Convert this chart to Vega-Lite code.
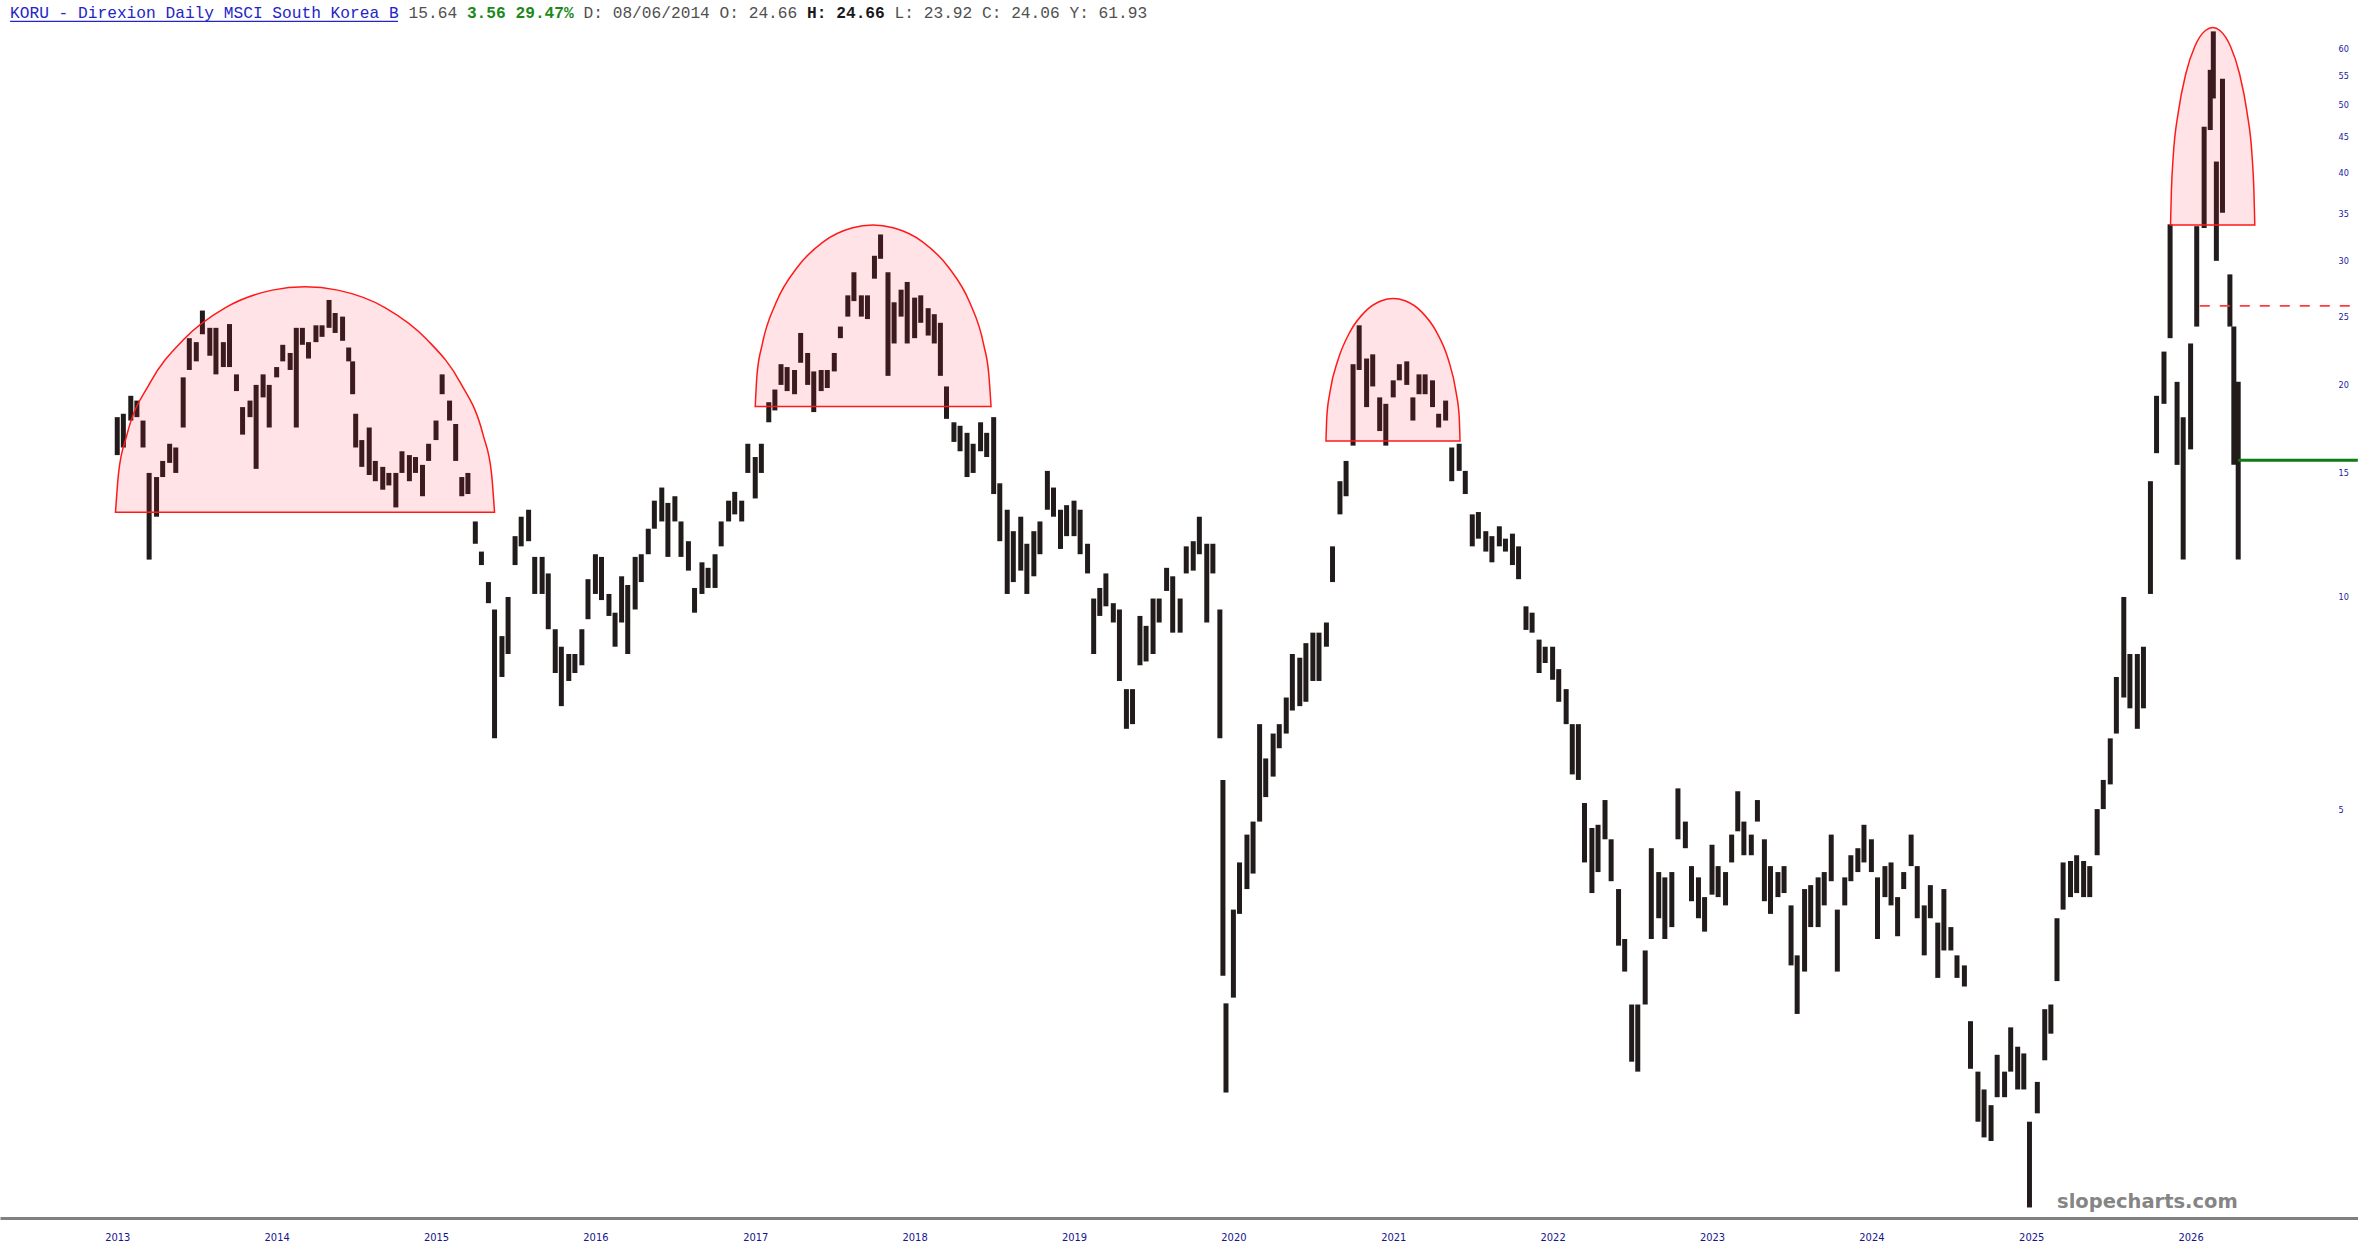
{
  "$schema": "https://vega.github.io/schema/vega-lite/v6.json",
  "width": 2358,
  "height": 1218,
  "autosize": {"type": "none"},
  "padding": {"left": 0, "top": 0, "right": 0, "bottom": 42},
  "background": "#ffffff",
  "config": {"view": {"stroke": null}},
  "resolve": {"axis": {"x": "independent", "y": "independent"}},
  "datasets": {
    "prices": [
      {"d":"2013-01-01","l":15.9,"h":18.0},{"d":"2013-01-15","l":16.3,"h":18.2},{"d":"2013-02-01","l":17.8,"h":19.3},{"d":"2013-02-15","l":18.0,"h":19.0},
      {"d":"2013-03-01","l":16.3,"h":17.8},{"d":"2013-03-15","l":11.3,"h":15.0},{"d":"2013-04-01","l":13.0,"h":14.8},{"d":"2013-04-15","l":14.8,"h":15.6},
      {"d":"2013-05-01","l":15.5,"h":16.5},{"d":"2013-05-15","l":15.0,"h":16.3},{"d":"2013-06-01","l":17.4,"h":20.5},{"d":"2013-06-15","l":21.0,"h":23.3},
      {"d":"2013-07-01","l":21.6,"h":23.0},{"d":"2013-07-15","l":23.6,"h":25.5},{"d":"2013-08-01","l":22.0,"h":24.1},{"d":"2013-08-15","l":20.7,"h":24.1},
      {"d":"2013-09-01","l":21.2,"h":23.0},{"d":"2013-09-15","l":21.2,"h":24.4},{"d":"2013-10-01","l":19.6,"h":20.7},{"d":"2013-10-15","l":17.0,"h":18.6},
      {"d":"2013-11-01","l":18.0,"h":19.0},{"d":"2013-11-15","l":15.2,"h":20.0},{"d":"2013-12-01","l":19.2,"h":20.7},{"d":"2013-12-15","l":17.4,"h":20.0},
      {"d":"2014-01-01","l":20.5,"h":21.2},{"d":"2014-01-15","l":21.6,"h":22.8},{"d":"2014-02-01","l":21.0,"h":22.2},{"d":"2014-02-15","l":17.4,"h":24.1},
      {"d":"2014-03-01","l":22.8,"h":24.1},{"d":"2014-03-15","l":21.8,"h":23.0},{"d":"2014-04-01","l":23.0,"h":24.3},{"d":"2014-04-15","l":23.4,"h":24.3},
      {"d":"2014-05-01","l":24.1,"h":26.4},{"d":"2014-05-15","l":23.7,"h":25.3},{"d":"2014-06-01","l":23.1,"h":25.0},{"d":"2014-06-15","l":21.6,"h":22.6},
      {"d":"2014-06-24","l":19.4,"h":21.6},{"d":"2014-07-01","l":16.3,"h":18.2},{"d":"2014-07-15","l":15.3,"h":16.7},{"d":"2014-08-01","l":14.9,"h":17.4},
      {"d":"2014-08-15","l":14.6,"h":15.6},{"d":"2014-09-01","l":14.2,"h":15.3},{"d":"2014-09-15","l":14.4,"h":15.0},{"d":"2014-10-01","l":13.4,"h":15.0},
      {"d":"2014-10-15","l":15.0,"h":16.1},{"d":"2014-11-01","l":14.6,"h":15.9},{"d":"2014-11-15","l":15.0,"h":15.8},{"d":"2014-12-01","l":13.9,"h":15.4},
      {"d":"2014-12-15","l":15.6,"h":16.5},{"d":"2015-01-01","l":16.7,"h":17.8},{"d":"2015-01-15","l":19.4,"h":20.7},{"d":"2015-02-01","l":17.8,"h":19.0},
      {"d":"2015-02-15","l":15.6,"h":17.6},{"d":"2015-03-01","l":13.9,"h":14.8},{"d":"2015-03-15","l":14.0,"h":15.0},{"d":"2015-04-01","l":11.9,"h":12.8},
      {"d":"2015-04-15","l":11.1,"h":11.6},{"d":"2015-05-01","l":9.8,"h":10.5},{"d":"2015-05-15","l":6.3,"h":9.6},{"d":"2015-06-01","l":7.7,"h":8.8},
      {"d":"2015-06-15","l":8.3,"h":10.0},{"d":"2015-07-01","l":11.1,"h":12.2},{"d":"2015-07-15","l":11.8,"h":13.0},{"d":"2015-08-01","l":12.0,"h":13.3},
      {"d":"2015-08-15","l":10.1,"h":11.4},{"d":"2015-09-01","l":10.1,"h":11.4},{"d":"2015-09-15","l":9.0,"h":10.8},{"d":"2015-10-01","l":7.8,"h":9.0},
      {"d":"2015-10-15","l":7.0,"h":8.5},{"d":"2015-11-01","l":7.6,"h":8.3},{"d":"2015-11-15","l":7.8,"h":8.3},{"d":"2015-12-01","l":8.0,"h":9.0},
      {"d":"2015-12-15","l":9.3,"h":10.6},{"d":"2016-01-01","l":10.1,"h":11.5},{"d":"2016-01-15","l":9.9,"h":11.4},{"d":"2016-02-01","l":9.4,"h":10.1},
      {"d":"2016-02-15","l":8.5,"h":9.5},{"d":"2016-03-01","l":9.2,"h":10.7},{"d":"2016-03-15","l":8.3,"h":10.4},{"d":"2016-04-01","l":9.6,"h":11.4},
      {"d":"2016-04-15","l":10.5,"h":11.5},{"d":"2016-05-01","l":11.5,"h":12.5},{"d":"2016-05-15","l":12.5,"h":13.7},{"d":"2016-06-01","l":12.8,"h":14.3},
      {"d":"2016-06-15","l":11.4,"h":13.6},{"d":"2016-07-01","l":12.8,"h":13.9},{"d":"2016-07-15","l":11.4,"h":12.8},{"d":"2016-08-01","l":10.9,"h":12.0},
      {"d":"2016-08-15","l":9.5,"h":10.3},{"d":"2016-09-01","l":10.1,"h":11.2},{"d":"2016-09-15","l":10.3,"h":11.0},{"d":"2016-10-01","l":10.3,"h":11.5},
      {"d":"2016-10-15","l":11.8,"h":12.8},{"d":"2016-11-01","l":12.8,"h":13.7},{"d":"2016-11-15","l":13.1,"h":14.1},{"d":"2016-12-01","l":12.8,"h":13.7},
      {"d":"2016-12-15","l":15.0,"h":16.5},{"d":"2017-01-01","l":13.8,"h":15.8},{"d":"2017-01-15","l":15.0,"h":16.5},{"d":"2017-02-01","l":17.7,"h":18.9},
      {"d":"2017-02-15","l":18.4,"h":19.7},{"d":"2017-03-01","l":20.0,"h":21.4},{"d":"2017-03-15","l":19.6,"h":21.2},{"d":"2017-04-01","l":19.4,"h":21.0},
      {"d":"2017-04-15","l":21.5,"h":23.7},{"d":"2017-05-01","l":20.0,"h":22.2},{"d":"2017-05-15","l":18.3,"h":20.9},{"d":"2017-06-01","l":19.6,"h":21.0},
      {"d":"2017-06-15","l":19.8,"h":21.0},{"d":"2017-07-01","l":20.9,"h":22.2},{"d":"2017-07-15","l":23.3,"h":24.2},{"d":"2017-08-01","l":25.0,"h":26.8},
      {"d":"2017-08-15","l":26.3,"h":28.9},{"d":"2017-09-01","l":25.0,"h":26.8},{"d":"2017-09-15","l":24.8,"h":26.8},{"d":"2017-10-01","l":28.3,"h":30.5},
      {"d":"2017-10-15","l":30.2,"h":32.7},{"d":"2017-11-01","l":20.6,"h":28.9},{"d":"2017-11-15","l":22.9,"h":26.2},{"d":"2017-12-01","l":25.0,"h":27.3},
      {"d":"2017-12-15","l":22.9,"h":28.0},{"d":"2018-01-01","l":23.3,"h":26.6},{"d":"2018-01-15","l":24.5,"h":26.8},{"d":"2018-02-01","l":23.5,"h":25.7},
      {"d":"2018-02-15","l":22.9,"h":25.2},{"d":"2018-03-01","l":20.6,"h":24.5},{"d":"2018-03-15","l":17.9,"h":19.9},{"d":"2018-04-01","l":16.6,"h":17.7},
      {"d":"2018-04-15","l":16.1,"h":17.5},{"d":"2018-05-01","l":14.8,"h":17.1},{"d":"2018-05-15","l":15.0,"h":16.5},{"d":"2018-06-01","l":16.1,"h":17.7},
      {"d":"2018-06-15","l":15.8,"h":17.1},{"d":"2018-07-01","l":14.0,"h":18.0},{"d":"2018-07-15","l":12.0,"h":14.5},{"d":"2018-08-01","l":10.1,"h":13.3},
      {"d":"2018-08-15","l":10.5,"h":12.4},{"d":"2018-09-01","l":10.9,"h":13.0},{"d":"2018-09-15","l":10.1,"h":11.9},{"d":"2018-10-01","l":10.7,"h":12.4},
      {"d":"2018-10-15","l":11.5,"h":12.8},{"d":"2018-11-01","l":13.3,"h":15.1},{"d":"2018-11-15","l":13.0,"h":14.3},{"d":"2018-12-01","l":11.7,"h":13.3},
      {"d":"2018-12-15","l":12.2,"h":13.5},{"d":"2019-01-01","l":12.2,"h":13.7},{"d":"2019-01-15","l":11.5,"h":13.3},{"d":"2019-02-01","l":10.8,"h":11.9},
      {"d":"2019-02-15","l":8.3,"h":9.95},{"d":"2019-03-01","l":9.4,"h":10.3},{"d":"2019-03-15","l":9.7,"h":10.8},{"d":"2019-04-01","l":9.2,"h":9.8},
      {"d":"2019-04-15","l":7.6,"h":9.6},{"d":"2019-05-01","l":6.5,"h":7.4},{"d":"2019-05-15","l":6.6,"h":7.4},{"d":"2019-06-01","l":8.0,"h":9.4},
      {"d":"2019-06-15","l":8.1,"h":9.1},{"d":"2019-07-01","l":8.3,"h":9.95},{"d":"2019-07-15","l":9.2,"h":9.95},{"d":"2019-08-01","l":10.2,"h":11.0},
      {"d":"2019-08-15","l":8.9,"h":10.7},{"d":"2019-09-01","l":8.9,"h":9.95},{"d":"2019-09-15","l":10.8,"h":11.8},{"d":"2019-10-01","l":10.9,"h":12.0},
      {"d":"2019-10-15","l":11.5,"h":13.0},{"d":"2019-11-01","l":9.2,"h":11.9},{"d":"2019-11-15","l":10.8,"h":11.9},{"d":"2019-12-01","l":6.3,"h":9.6},
      {"d":"2019-12-08","l":2.9,"h":5.5},{"d":"2019-12-15","l":1.98,"h":2.65},{"d":"2020-01-01","l":2.7,"h":3.6},{"d":"2020-01-15","l":3.55,"h":4.2},
      {"d":"2020-02-01","l":3.85,"h":4.6},{"d":"2020-02-15","l":4.05,"h":4.8},{"d":"2020-03-01","l":4.8,"h":6.6},{"d":"2020-03-15","l":5.2,"h":5.9},
      {"d":"2020-04-01","l":5.56,"h":6.4},{"d":"2020-04-15","l":6.1,"h":6.6},{"d":"2020-05-01","l":6.4,"h":7.2},{"d":"2020-05-15","l":6.9,"h":8.3},
      {"d":"2020-06-01","l":7.0,"h":8.2},{"d":"2020-06-15","l":7.1,"h":8.6},{"d":"2020-07-01","l":7.6,"h":8.9},{"d":"2020-07-15","l":7.6,"h":8.9},
      {"d":"2020-08-01","l":8.5,"h":9.2},{"d":"2020-08-15","l":10.5,"h":11.8},{"d":"2020-09-01","l":13.1,"h":14.6},{"d":"2020-09-15","l":13.9,"h":15.6},
      {"d":"2020-10-01","l":16.4,"h":21.4},{"d":"2020-10-15","l":21.0,"h":24.3},{"d":"2020-11-01","l":18.6,"h":21.8},{"d":"2020-11-15","l":19.9,"h":22.1},
      {"d":"2020-12-01","l":17.2,"h":19.2},{"d":"2020-12-15","l":16.4,"h":18.8},{"d":"2021-01-01","l":19.2,"h":20.3},{"d":"2021-01-15","l":20.3,"h":21.4},
      {"d":"2021-02-01","l":20.0,"h":21.6},{"d":"2021-02-15","l":17.8,"h":19.2},{"d":"2021-03-01","l":19.4,"h":20.7},{"d":"2021-03-15","l":19.4,"h":20.7},
      {"d":"2021-04-01","l":18.6,"h":20.3},{"d":"2021-04-15","l":17.4,"h":18.2},{"d":"2021-05-01","l":17.8,"h":19.0},{"d":"2021-05-15","l":14.6,"h":16.3},
      {"d":"2021-06-01","l":15.1,"h":16.5},{"d":"2021-06-15","l":14.0,"h":15.1},{"d":"2021-07-01","l":11.8,"h":13.1},{"d":"2021-07-15","l":12.1,"h":13.2},
      {"d":"2021-08-01","l":11.6,"h":12.4},{"d":"2021-08-15","l":11.2,"h":12.2},{"d":"2021-09-01","l":11.8,"h":12.6},{"d":"2021-09-15","l":11.6,"h":12.1},
      {"d":"2021-10-01","l":11.1,"h":12.3},{"d":"2021-10-15","l":10.6,"h":11.8},{"d":"2021-11-01","l":8.98,"h":9.7},{"d":"2021-11-15","l":8.9,"h":9.5},
      {"d":"2021-12-01","l":7.8,"h":8.7},{"d":"2021-12-15","l":8.06,"h":8.5},{"d":"2022-01-01","l":7.63,"h":8.5},{"d":"2022-01-15","l":7.1,"h":7.9},
      {"d":"2022-02-01","l":6.6,"h":7.4},{"d":"2022-02-15","l":5.6,"h":6.6},{"d":"2022-03-01","l":5.5,"h":6.6},{"d":"2022-03-15","l":4.2,"h":5.1},
      {"d":"2022-04-01","l":3.8,"h":4.7},{"d":"2022-04-15","l":4.07,"h":4.75},{"d":"2022-05-01","l":4.53,"h":5.15},{"d":"2022-05-15","l":3.95,"h":4.53},
      {"d":"2022-06-01","l":3.2,"h":3.85},{"d":"2022-06-15","l":2.94,"h":3.27},{"d":"2022-07-01","l":2.19,"h":2.64},{"d":"2022-07-15","l":2.12,"h":2.64},
      {"d":"2022-08-01","l":2.64,"h":3.15},{"d":"2022-08-15","l":3.27,"h":4.4},{"d":"2022-09-01","l":3.5,"h":4.07},{"d":"2022-09-15","l":3.27,"h":4.0},
      {"d":"2022-10-01","l":3.4,"h":4.07},{"d":"2022-10-15","l":4.53,"h":5.35},{"d":"2022-11-01","l":4.4,"h":4.8},{"d":"2022-11-15","l":3.7,"h":4.15},
      {"d":"2022-12-01","l":3.5,"h":4.0},{"d":"2022-12-15","l":3.35,"h":3.75},{"d":"2023-01-01","l":3.78,"h":4.45},{"d":"2023-01-15","l":3.75,"h":4.15},
      {"d":"2023-02-01","l":3.65,"h":4.07},{"d":"2023-02-15","l":4.2,"h":4.6},{"d":"2023-03-01","l":4.65,"h":5.3},{"d":"2023-03-15","l":4.3,"h":4.8},
      {"d":"2023-04-01","l":4.3,"h":4.6},{"d":"2023-04-15","l":4.8,"h":5.15},{"d":"2023-05-01","l":3.7,"h":4.53},{"d":"2023-05-15","l":3.55,"h":4.15},
      {"d":"2023-06-01","l":3.75,"h":4.07},{"d":"2023-06-15","l":3.8,"h":4.15},{"d":"2023-07-01","l":3.0,"h":3.65},{"d":"2023-07-15","l":2.56,"h":3.1},
      {"d":"2023-08-01","l":2.94,"h":3.85},{"d":"2023-08-15","l":3.4,"h":3.9},{"d":"2023-09-01","l":3.4,"h":4.0},{"d":"2023-09-15","l":3.65,"h":4.07},
      {"d":"2023-10-01","l":3.95,"h":4.6},{"d":"2023-10-15","l":2.94,"h":3.6},{"d":"2023-11-01","l":3.65,"h":4.0},{"d":"2023-11-15","l":3.95,"h":4.3},
      {"d":"2023-12-01","l":4.07,"h":4.4},{"d":"2023-12-15","l":4.2,"h":4.75},{"d":"2024-01-01","l":4.07,"h":4.53},{"d":"2024-01-15","l":3.27,"h":4.0},
      {"d":"2024-02-01","l":3.75,"h":4.15},{"d":"2024-02-15","l":3.65,"h":4.2},{"d":"2024-03-01","l":3.3,"h":3.75},{"d":"2024-03-15","l":3.85,"h":4.07},
      {"d":"2024-04-01","l":4.15,"h":4.6},{"d":"2024-04-15","l":3.5,"h":4.15},{"d":"2024-05-01","l":3.1,"h":3.65},{"d":"2024-05-15","l":3.5,"h":3.9},
      {"d":"2024-06-01","l":2.88,"h":3.45},{"d":"2024-06-15","l":3.15,"h":3.85},{"d":"2024-07-01","l":3.15,"h":3.4},{"d":"2024-07-15","l":2.88,"h":3.1},
      {"d":"2024-08-01","l":2.8,"h":3.0},{"d":"2024-08-15","l":2.14,"h":2.5},{"d":"2024-09-01","l":1.8,"h":2.12},{"d":"2024-09-15","l":1.71,"h":2.0},
      {"d":"2024-10-01","l":1.69,"h":1.9},{"d":"2024-10-15","l":1.95,"h":2.24},{"d":"2024-11-01","l":1.95,"h":2.12},{"d":"2024-11-15","l":2.12,"h":2.45},
      {"d":"2024-12-01","l":2.0,"h":2.3},{"d":"2024-12-15","l":2.0,"h":2.25},{"d":"2024-12-28","l":1.36,"h":1.8},{"d":"2025-01-15","l":1.85,"h":2.05},
      {"d":"2025-02-01","l":2.2,"h":2.6},{"d":"2025-02-15","l":2.4,"h":2.64},{"d":"2025-03-01","l":2.85,"h":3.5},{"d":"2025-03-15","l":3.6,"h":4.2},
      {"d":"2025-04-01","l":3.75,"h":4.22},{"d":"2025-04-15","l":3.8,"h":4.3},{"d":"2025-05-01","l":3.75,"h":4.22},{"d":"2025-05-15","l":3.75,"h":4.15},
      {"d":"2025-06-01","l":4.3,"h":5.0},{"d":"2025-06-15","l":5.0,"h":5.5},{"d":"2025-07-01","l":5.42,"h":6.3},{"d":"2025-07-15","l":6.4,"h":7.7},
      {"d":"2025-08-01","l":7.2,"h":10.0},{"d":"2025-08-15","l":6.95,"h":8.3},{"d":"2025-09-01","l":6.5,"h":8.3},{"d":"2025-09-15","l":6.95,"h":8.5},
      {"d":"2025-10-01","l":10.1,"h":14.6},{"d":"2025-10-15","l":16.0,"h":19.3},{"d":"2025-11-01","l":18.8,"h":22.3},{"d":"2025-11-15","l":23.3,"h":33.8},
      {"d":"2025-12-01","l":15.4,"h":20.2},{"d":"2025-12-15","l":11.3,"h":18.0},{"d":"2026-01-01","l":16.2,"h":22.9},{"d":"2026-01-15","l":24.2,"h":33.6},
      {"d":"2026-02-01","l":33.4,"h":46.5},{"d":"2026-02-15","l":46.0,"h":56.0},{"d":"2026-02-22","l":51.0,"h":63.5},{"d":"2026-03-01","l":30.0,"h":41.5},
      {"d":"2026-03-15","l":35.1,"h":54.4},{"d":"2026-04-01","l":24.2,"h":28.7},{"d":"2026-04-10","l":15.4,"h":24.2},{"d":"2026-04-20","l":11.3,"h":20.2}
    ],
    "domes": [
      {"dome":1,"d":"2012-12-28","top":13.19,"base":13.19},{"dome":1,"d":"2013-01-04","top":14.99,"base":13.19},{"dome":1,"d":"2013-01-23","top":16.97,"base":13.19},
      {"dome":1,"d":"2013-03-17","top":20.13,"base":13.19},{"dome":1,"d":"2013-06-02","top":23.2,"base":13.19},{"dome":1,"d":"2013-09-05","top":25.73,"base":13.19},
      {"dome":1,"d":"2013-12-22","top":27.26,"base":13.19},{"dome":1,"d":"2014-03-07","top":27.57,"base":13.19},{"dome":1,"d":"2014-05-21","top":27.26,"base":13.19},
      {"dome":1,"d":"2014-09-07","top":25.73,"base":13.19},{"dome":1,"d":"2014-12-11","top":23.2,"base":13.19},{"dome":1,"d":"2015-02-26","top":20.13,"base":13.19},
      {"dome":1,"d":"2015-04-19","top":16.97,"base":13.19},{"dome":1,"d":"2015-05-08","top":14.99,"base":13.19},{"dome":1,"d":"2015-05-15","top":13.19,"base":13.19},
      {"dome":2,"d":"2017-01-01","top":18.64,"base":18.64},{"dome":2,"d":"2017-01-05","top":20.66,"base":18.64},{"dome":2,"d":"2017-01-17","top":22.83,"base":18.64},
      {"dome":2,"d":"2017-02-18","top":26.2,"base":18.64},{"dome":2,"d":"2017-04-07","top":29.36,"base":18.64},{"dome":2,"d":"2017-06-05","top":31.9,"base":18.64},
      {"dome":2,"d":"2017-08-12","top":33.42,"base":18.64},{"dome":2,"d":"2017-09-27","top":33.73,"base":18.64},{"dome":2,"d":"2017-11-13","top":33.42,"base":18.64},
      {"dome":2,"d":"2018-01-20","top":31.9,"base":18.64},{"dome":2,"d":"2018-03-20","top":29.36,"base":18.64},{"dome":2,"d":"2018-05-07","top":26.2,"base":18.64},
      {"dome":2,"d":"2018-06-08","top":22.83,"base":18.64},{"dome":2,"d":"2018-06-20","top":20.66,"base":18.64},{"dome":2,"d":"2018-06-25","top":18.64,"base":18.64},
      {"dome":3,"d":"2020-07-31","top":16.65,"base":16.65},{"dome":3,"d":"2020-08-02","top":18.05,"base":16.65},{"dome":3,"d":"2020-08-09","top":19.52,"base":16.65},
      {"dome":3,"d":"2020-08-28","top":21.75,"base":16.65},{"dome":3,"d":"2020-09-24","top":23.79,"base":16.65},{"dome":3,"d":"2020-10-28","top":25.39,"base":16.65},
      {"dome":3,"d":"2020-12-05","top":26.33,"base":16.65},{"dome":3,"d":"2021-01-01","top":26.52,"base":16.65},{"dome":3,"d":"2021-01-28","top":26.33,"base":16.65},
      {"dome":3,"d":"2021-03-07","top":25.39,"base":16.65},{"dome":3,"d":"2021-04-10","top":23.79,"base":16.65},{"dome":3,"d":"2021-05-07","top":21.75,"base":16.65},
      {"dome":3,"d":"2021-05-25","top":19.52,"base":16.65},{"dome":3,"d":"2021-06-01","top":18.05,"base":16.65},{"dome":3,"d":"2021-06-03","top":16.65,"base":16.65},
      {"dome":4,"d":"2025-11-16","top":33.73,"base":33.73},{"dome":4,"d":"2025-11-18","top":37.73,"base":33.73},{"dome":4,"d":"2025-11-22","top":42.05,"base":33.73},
      {"dome":4,"d":"2025-12-04","top":48.84,"base":33.73},{"dome":4,"d":"2025-12-21","top":55.29,"base":33.73},{"dome":4,"d":"2026-01-11","top":60.53,"base":33.73},
      {"dome":4,"d":"2026-02-04","top":63.68,"base":33.73},{"dome":4,"d":"2026-02-21","top":64.3,"base":33.73},{"dome":4,"d":"2026-03-09","top":63.68,"base":33.73},
      {"dome":4,"d":"2026-04-02","top":60.53,"base":33.73},{"dome":4,"d":"2026-04-23","top":55.29,"base":33.73},{"dome":4,"d":"2026-05-10","top":48.84,"base":33.73},
      {"dome":4,"d":"2026-05-22","top":42.05,"base":33.73},{"dome":4,"d":"2026-05-26","top":37.73,"base":33.73},{"dome":4,"d":"2026-05-28","top":33.73,"base":33.73}
    ],
    "levels": [
      {"kind":"resistance","start":"2026-01-22","end":"2027-01-19","price":25.9},
      {"kind":"last","start":"2026-04-20","end":"2027-01-19","price":15.64}
    ]
  },
  "layer": [
    {
      "data": {"name": "prices"},
      "mark": {"type": "rule", "color": "#221b1b", "strokeWidth": 5, "strokeCap": "butt"},
      "encoding": {
        "x": {
          "field": "d", "type": "temporal",
          "scale": {"type": "utc", "domain": [{"year": 2012, "month": 4, "date": 7, "hours": 12, "utc": true}, {"year": 2027, "month": 1, "date": 19, "hours": 8, "utc": true}]},
          "axis": {
            "title": null, "format": "%Y", "ticks": false, "grid": false,
            "values": [{"year": 2013, "utc": true}, {"year": 2014, "utc": true}, {"year": 2015, "utc": true}, {"year": 2016, "utc": true}, {"year": 2017, "utc": true}, {"year": 2018, "utc": true}, {"year": 2019, "utc": true}, {"year": 2020, "utc": true}, {"year": 2021, "utc": true}, {"year": 2022, "utc": true}, {"year": 2023, "utc": true}, {"year": 2024, "utc": true}, {"year": 2025, "utc": true}, {"year": 2026, "utc": true}],
            "domainColor": "#808080", "domainWidth": 3,
            "labelColor": "#14148c", "labelFont": "Liberation Sans Narrow, DejaVu Sans Condensed, sans-serif", "labelFontSize": 11, "labelPadding": 13
          }
        },
        "y": {
          "field": "l", "type": "quantitative",
          "scale": {"type": "log", "domain": [1.314, 70.36], "nice": false, "zero": false},
          "axis": {
            "title": null, "orient": "right", "offset": -22, "values": [5, 10, 15, 20, 25, 30, 35, 40, 45, 50, 55, 60],
            "format": "d", "ticks": false, "domain": false, "grid": false, "labelAlign": "left", "labelPadding": 2,
            "labelColor": "#1a1aa0", "labelFont": "DejaVu Sans Condensed, sans-serif", "labelFontSize": 9
          }
        },
        "y2": {"field": "h"}
      }
    },
    {
      "data": {"name": "domes"},
      "mark": {"type": "area", "interpolate": "monotone", "fill": "#ff1a2e", "fillOpacity": 0.12, "stroke": "#ff1a1a", "strokeWidth": 1.5},
      "encoding": {
        "x": {"field": "d", "type": "temporal", "scale": {"type": "utc"}, "axis": null},
        "y": {"field": "top", "type": "quantitative", "scale": {"type": "log", "domain": [1.314, 70.36], "nice": false, "zero": false}, "axis": null},
        "y2": {"field": "base"},
        "detail": {"field": "dome", "type": "nominal"}
      }
    },
    {
      "data": {"name": "levels"},
      "transform": [{"filter": "datum.kind == 'resistance'"}],
      "mark": {"type": "rule", "color": "#ff3b3b", "strokeWidth": 1.8, "strokeDash": [10, 10]},
      "encoding": {
        "x": {"field": "start", "type": "temporal", "scale": {"type": "utc"}, "axis": null},
        "x2": {"field": "end"},
        "y": {"field": "price", "type": "quantitative", "scale": {"type": "log", "domain": [1.314, 70.36], "nice": false, "zero": false}, "axis": null}
      }
    },
    {
      "data": {"name": "levels"},
      "transform": [{"filter": "datum.kind == 'last'"}],
      "mark": {"type": "rule", "color": "#127a12", "strokeWidth": 3},
      "encoding": {
        "x": {"field": "start", "type": "temporal", "scale": {"type": "utc"}, "axis": null},
        "x2": {"field": "end"},
        "y": {"field": "price", "type": "quantitative", "scale": {"type": "log", "domain": [1.314, 70.36], "nice": false, "zero": false}, "axis": null}
      }
    },
    {
      "data": {"values": [{}]},
      "mark": {"type": "text", "text": "KORU - Direxion Daily MSCI South Korea B", "font": "Liberation Mono", "fontSize": 16.2, "color": "#2424c8", "align": "left", "baseline": "middle"},
      "encoding": {
        "x": {"datum": {"year": 2012, "month": 4, "date": 30, "hours": 12, "utc": true}, "type": "temporal", "scale": {"type": "utc"}, "axis": null},
        "y": {"datum": 67.43, "type": "quantitative", "scale": {"type": "log", "domain": [1.314, 70.36], "nice": false, "zero": false}, "axis": null}
      }
    },
    {
      "data": {"values": [{}]},
      "mark": {"type": "rule", "color": "#2424c8", "strokeWidth": 1.3},
      "encoding": {
        "x": {"datum": {"year": 2012, "month": 4, "date": 30, "hours": 12, "utc": true}, "type": "temporal", "scale": {"type": "utc"}, "axis": null},
        "x2": {"datum": {"year": 2014, "month": 10, "date": 6, "utc": true}},
        "y": {"datum": 65.6, "type": "quantitative", "scale": {"type": "log", "domain": [1.314, 70.36], "nice": false, "zero": false}, "axis": null}
      }
    },
    {
      "data": {"values": [{}]},
      "mark": {"type": "text", "text": "15.64", "font": "Liberation Mono", "fontSize": 16.2, "color": "#505050", "align": "left", "baseline": "middle"},
      "encoding": {
        "x": {"datum": {"year": 2014, "month": 10, "date": 30, "hours": 2, "utc": true}, "type": "temporal", "scale": {"type": "utc"}, "axis": null},
        "y": {"datum": 67.43, "type": "quantitative", "scale": {"type": "log", "domain": [1.314, 70.36], "nice": false, "zero": false}, "axis": null}
      }
    },
    {
      "data": {"values": [{}]},
      "mark": {"type": "text", "text": "3.56 29.47%", "font": "Liberation Mono", "fontSize": 16.2, "fontWeight": "bold", "color": "#1b8a1b", "align": "left", "baseline": "middle"},
      "encoding": {
        "x": {"datum": {"year": 2015, "month": 3, "date": 12, "hours": 17, "utc": true}, "type": "temporal", "scale": {"type": "utc"}, "axis": null},
        "y": {"datum": 67.43, "type": "quantitative", "scale": {"type": "log", "domain": [1.314, 70.36], "nice": false, "zero": false}, "axis": null}
      }
    },
    {
      "data": {"values": [{}]},
      "mark": {"type": "text", "text": "D: 08/06/2014 O: 24.66", "font": "Liberation Mono", "fontSize": 16.2, "color": "#505050", "align": "left", "baseline": "middle"},
      "encoding": {
        "x": {"datum": {"year": 2015, "month": 12, "date": 4, "hours": 19, "utc": true}, "type": "temporal", "scale": {"type": "utc"}, "axis": null},
        "y": {"datum": 67.43, "type": "quantitative", "scale": {"type": "log", "domain": [1.314, 70.36], "nice": false, "zero": false}, "axis": null}
      }
    },
    {
      "data": {"values": [{}]},
      "mark": {"type": "text", "text": "H: 24.66", "font": "Liberation Mono", "fontSize": 16.2, "fontWeight": "bold", "color": "#1a1a1a", "align": "left", "baseline": "middle"},
      "encoding": {
        "x": {"datum": {"year": 2017, "month": 4, "date": 29, "hours": 17, "utc": true}, "type": "temporal", "scale": {"type": "utc"}, "axis": null},
        "y": {"datum": 67.43, "type": "quantitative", "scale": {"type": "log", "domain": [1.314, 70.36], "nice": false, "zero": false}, "axis": null}
      }
    },
    {
      "data": {"values": [{}]},
      "mark": {"type": "text", "text": "L: 23.92 C: 24.06 Y: 61.93", "font": "Liberation Mono", "fontSize": 16.2, "color": "#505050", "align": "left", "baseline": "middle"},
      "encoding": {
        "x": {"datum": {"year": 2017, "month": 11, "date": 16, "hours": 2, "utc": true}, "type": "temporal", "scale": {"type": "utc"}, "axis": null},
        "y": {"datum": 67.43, "type": "quantitative", "scale": {"type": "log", "domain": [1.314, 70.36], "nice": false, "zero": false}, "axis": null}
      }
    },
    {
      "data": {"values": [{}]},
      "mark": {"type": "text", "text": "slopecharts.com", "font": "DejaVu Sans", "fontSize": 19.5, "fontWeight": "bold", "color": "#858585", "align": "right", "baseline": "alphabetic"},
      "encoding": {
        "x": {"datum": {"year": 2026, "month": 4, "date": 19, "utc": true}, "type": "temporal", "scale": {"type": "utc"}, "axis": null},
        "y": {"datum": 1.358, "type": "quantitative", "scale": {"type": "log", "domain": [1.314, 70.36], "nice": false, "zero": false}, "axis": null}
      }
    }
  ]
}
